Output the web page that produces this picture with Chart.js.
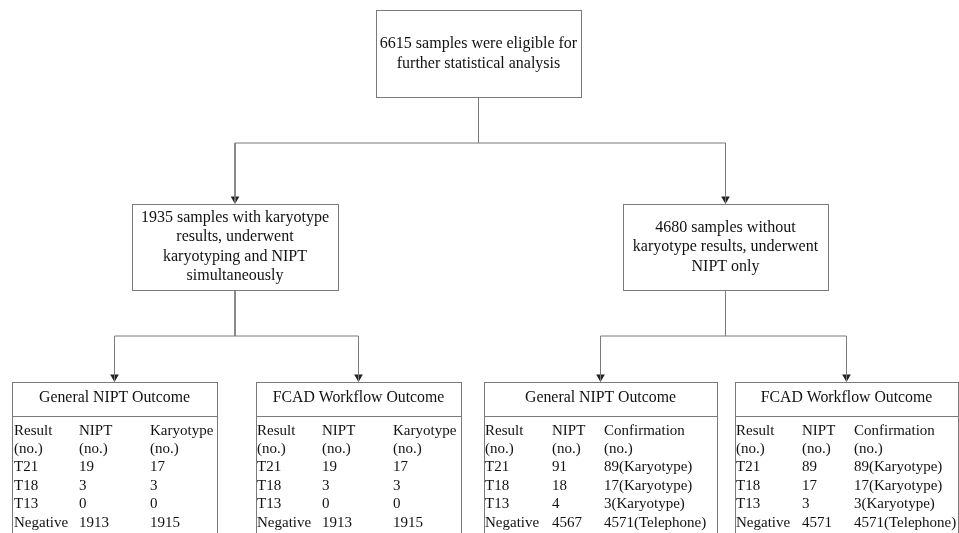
<!DOCTYPE html>
<html>
<head>
<meta charset="utf-8">
<script src="https://cdn.jsdelivr.net/npm/chart.js@4.4.1/dist/chart.umd.min.js"></script>
<style>
  html, body { margin: 0; padding: 0; background: #fff; }
  #flow { display: block; }
</style>
</head>
<body>
<canvas id="flow" width="959" height="533"></canvas>
<script>
// ---- content ----
const topText = ['6615 samples were eligible for', 'further statistical analysis'];
const leftText = ['1935 samples with karyotype', 'results, underwent', 'karyotyping and NIPT', 'simultaneously'];
const rightText = ['4680 samples without', 'karyotype results, underwent', 'NIPT only'];

const tableTitles = ['General NIPT Outcome', 'FCAD Workflow Outcome', 'General NIPT Outcome', 'FCAD Workflow Outcome'];
const headRow1 = [['Result', 'NIPT', 'Karyotype'], ['Result', 'NIPT', 'Karyotype'], ['Result', 'NIPT', 'Confirmation'], ['Result', 'NIPT', 'Confirmation']];
const headRow2 = ['(no.)', '(no.)', '(no.)'];
const resultLabels = ['T21', 'T18', 'T13', 'Negative'];
const niptCounts = [[19, 3, 0, 1913], [19, 3, 0, 1913], [91, 18, 4, 4567], [89, 17, 3, 4571]];
const confirmCounts = [
  ['17', '3', '0', '1915'],
  ['17', '3', '0', '1915'],
  ['89(Karyotype)', '17(Karyotype)', '3(Karyotype)', '4571(Telephone)'],
  ['89(Karyotype)', '17(Karyotype)', '3(Karyotype)', '4571(Telephone)']
];

// ---- layout (canvas units) ----
const LINE = '#7a7a7a';
const INK = '#111';
const FONT = '16px "Liberation Serif", "Times New Roman", serif';
const TITLE_FONT = '15.8px "Liberation Serif", "Times New Roman", serif';
const CELL_FONT = '15px "Liberation Serif", "Times New Roman", serif';
const topBox = { x0: 376, x1: 581, y0: 10, y1: 97 };
const midBoxes = [
  { x0: 132, x1: 338, y0: 204, y1: 290 },
  { x0: 623, x1: 828, y0: 204, y1: 290 }
];
const bottomBoxes = [
  { x0: 12, x1: 217, cols: [14, 79, 150] },
  { x0: 256, x1: 461, cols: [257, 322, 393] },
  { x0: 484, x1: 717, cols: [485, 552, 604] },
  { x0: 735, x1: 958, cols: [736, 802, 854] }
];
const tblTop = 382, tblDiv = 416, tblTitleY = 398;
const rowY = [431, 449, 467, 486, 504, 523];

const cx = b => (b.x0 + b.x1) / 2;
const midCx = midBoxes.map(cx);
const botCx = bottomBoxes.map(cx);

// connectors: [x, y] polylines, arrows at ends
const connectors = [
  [[cx(topBox), topBox.y1], [cx(topBox), 143]],
  [[midCx[0], 143], [midCx[1], 143]],
  [[midCx[0], 143], [midCx[0], midBoxes[0].y0 - 1]],
  [[midCx[1], 143], [midCx[1], midBoxes[1].y0 - 1]],
  [[midCx[0], midBoxes[0].y1], [midCx[0], 336]],
  [[botCx[0], 336], [botCx[1], 336]],
  [[botCx[0], 336], [botCx[0], tblTop - 1]],
  [[botCx[1], 336], [botCx[1], tblTop - 1]],
  [[midCx[1], midBoxes[1].y1], [midCx[1], 336]],
  [[botCx[2], 336], [botCx[3], 336]],
  [[botCx[2], 336], [botCx[2], tblTop - 1]],
  [[botCx[3], 336], [botCx[3], tblTop - 1]]
];
const arrowTips = [
  [midCx[0], midBoxes[0].y0 - 5], [midCx[1], midBoxes[1].y0 - 5],
  [botCx[0], tblTop - 5], [botCx[1], tblTop - 5], [botCx[2], tblTop - 5], [botCx[3], tblTop - 5]
];

const datasets = connectors.map(seg => ({
  type: 'scatter',
  data: seg.map(p => ({ x: p[0], y: p[1] })),
  showLine: true,
  borderColor: LINE,
  borderWidth: 1,
  pointRadius: 0,
  clip: false
}));
datasets.push({
  type: 'scatter',
  data: arrowTips.map(p => ({ x: p[0], y: p[1] })),
  pointStyle: 'triangle',
  rotation: 180,
  pointRadius: 5,
  backgroundColor: '#222',
  borderColor: '#222',
  borderWidth: 0,
  clip: false
});

// boxes and text are painted on top of the scales
const flowPlugin = {
  id: 'flowBoxes',
  beforeDatasetsDraw(chart) {
    const { ctx, scales: { x, y } } = chart;
    const px = v => x.getPixelForValue(v);
    const py = v => y.getPixelForValue(v);
    ctx.save();
    ctx.strokeStyle = LINE;
    ctx.lineWidth = 1;
    const rect = (x0, y0, x1, y1) => {
      ctx.strokeRect(Math.round(px(x0)) + 0.5, Math.round(py(y0)) + 0.5,
        Math.round(px(x1) - px(x0)), Math.round(py(y1) - py(y0)));
    };
    rect(topBox.x0, topBox.y0, topBox.x1, topBox.y1);
    midBoxes.forEach(b => rect(b.x0, b.y0, b.x1, b.y1));
    bottomBoxes.forEach(b => {
      rect(b.x0, tblTop, b.x1, 545);
      ctx.beginPath();
      ctx.moveTo(px(b.x0), Math.round(py(tblDiv)) + 0.5);
      ctx.lineTo(px(b.x1), Math.round(py(tblDiv)) + 0.5);
      ctx.stroke();
    });
    ctx.restore();
  },
  afterDatasetsDraw(chart) {
    const { ctx, scales: { x, y } } = chart;
    const px = v => x.getPixelForValue(v);
    const py = v => y.getPixelForValue(v);
    ctx.save();
    ctx.fillStyle = INK;
    ctx.font = FONT;
    ctx.textBaseline = 'middle';

    const block = (lines, b, gap) => {
      ctx.textAlign = 'center';
      const mid = (b.y0 + b.y1) / 2;
      lines.forEach((t, i) => {
        ctx.fillText(t, px(cx(b)), py(mid + (i - (lines.length - 1) / 2) * gap));
      });
    };
    block(topText, topBox, 20);
    block(leftText, midBoxes[0], 19.5);
    block(rightText, midBoxes[1], 19.5);

    bottomBoxes.forEach((b, k) => {
      ctx.font = TITLE_FONT;
      ctx.textAlign = 'center';
      ctx.fillText(tableTitles[k], px(cx(b)), py(tblTitleY));
      ctx.font = CELL_FONT;
      ctx.textAlign = 'left';
      const rows = [headRow1[k], headRow2];
      resultLabels.forEach((lab, i) => rows.push([lab, String(niptCounts[k][i]), confirmCounts[k][i]]));
      rows.forEach((r, i) => {
        r.forEach((t, j) => ctx.fillText(t, px(b.cols[j]), py(rowY[i])));
      });
    });
    ctx.restore();
  }
};

new Chart(document.getElementById('flow'), {
  type: 'scatter',
  data: { datasets },
  options: {
    responsive: false,
    devicePixelRatio: 1,
    animation: false,
    layout: { padding: 0, autoPadding: false },
    plugins: { legend: { display: false }, tooltip: { enabled: false } },
    scales: {
      x: { type: 'linear', min: 0, max: 959, display: false },
      y: { type: 'linear', min: 0, max: 533, reverse: true, display: false }
    }
  },
  plugins: [flowPlugin]
});
</script>
</body>
</html>
